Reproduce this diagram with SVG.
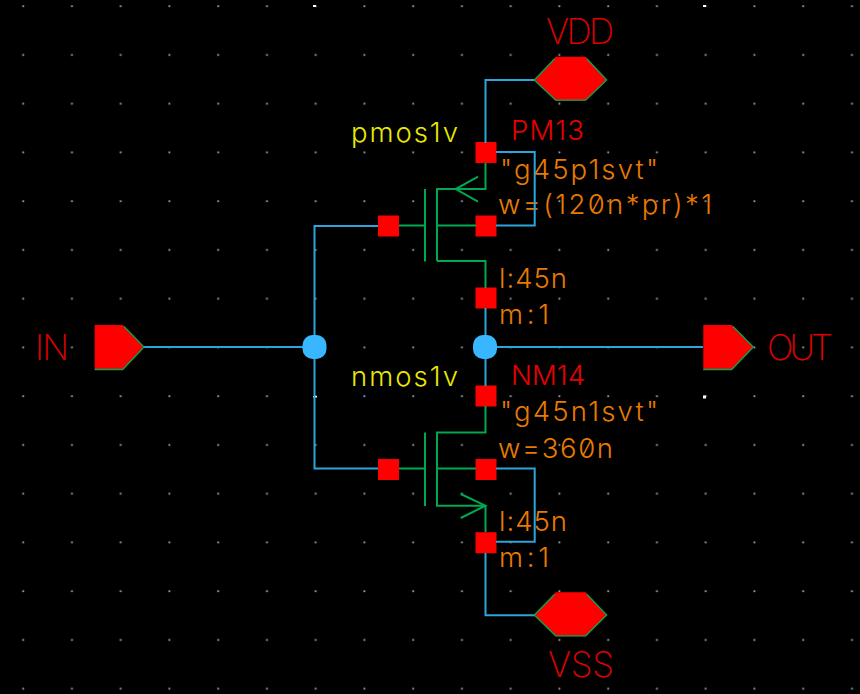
<svg xmlns="http://www.w3.org/2000/svg" width="860" height="694" viewBox="0 0 860 694">
<style>
text{font-family:"Inter","Liberation Sans",sans-serif;font-weight:300;font-feature-settings:"zero" 1}
.r{fill:#e80000;font-size:27.500px}
.R{fill:#e00000;font-size:35px;font-weight:200}
.o{fill:#e87a00;font-size:27.500px}
.y{fill:#e8e800;font-size:27.500px}
.w{fill:none;stroke:#2ba5dc;stroke-width:2}
.g{fill:none;stroke:#00a850;stroke-width:2}
.p{fill:#ff0000}
.e{fill:none;stroke:#00a850;stroke-width:1.300}
.d{fill:#38b6ff}
.t{fill:#a0a0b4}
</style>
<defs>
<g id="pin"><rect class="p" x="-10.500" y="-10.500" width="21" height="21"/></g>
<g id="dot"><rect class="d" x="-12" y="-12" width="24" height="24" rx="10"/></g>
<pattern id="grid" x="0" y="0" width="48.750" height="48.750" patternUnits="userSpaceOnUse"><rect class="t" x="22.300" y="5.300" width="1.800" height="1.800"/></pattern>
</defs>
<rect width="860" height="694" fill="#000"/>
<rect width="860" height="694" fill="url(#grid)"/>
<g fill="#fff"><rect x="313" y="5" width="3" height="2"/><rect x="703" y="5" width="3" height="2"/><rect x="313" y="396" width="4" height="1.500"/><rect x="703" y="395.500" width="3" height="3"/></g>
<g id="PM13">
<use href="#pin" x="486" y="152.500"/><use href="#pin" x="388.500" y="226"/><use href="#pin" x="486" y="226"/><use href="#pin" x="486" y="298"/>
<text class="y" x="351" y="142" textLength="107">pmos1v</text>
<text class="r" x="511" y="140" textLength="73">PM13</text>
<text class="o" x="500" y="178.500" textLength="158">"g45p1svt"</text>
<text class="o" x="498" y="213.500" textLength="214">w=(120n*pr)*1</text>
<text class="o" x="499" y="287.500" textLength="68">l:45n</text>
<text class="o" x="499" y="323.500" textLength="50">m:1</text>
</g>
<g id="NM14">
<use href="#pin" x="486" y="396"/><use href="#pin" x="388.500" y="469.500"/><use href="#pin" x="486" y="469.500"/><use href="#pin" x="486" y="542.700"/>
<text class="y" x="351" y="385.500" textLength="107">nmos1v</text>
<text class="r" x="511" y="384.500" textLength="74">NM14</text>
<text class="o" x="500" y="420.500" textLength="158">"g45n1svt"</text>
<text class="o" x="498" y="457.500" textLength="115">w=360n</text>
<text class="o" x="499" y="531" textLength="68">l:45n</text>
<text class="o" x="499" y="566.500" textLength="50">m:1</text>
</g>
<g id="connectors">
<path class="w" d="M144 347H314.500M485 347H703M314.500 347V226H378M314.500 347V468.500H378"/>
<path class="w" d="M535 80H485.500V143M496 152H534.700V225.500H496M485.500 308V386"/>
<path class="w" d="M496 468.500H534.700V541.700H496M485.500 553V615.300H535"/>
<path class="g" d="M399 225.500H425M437 225.500H476M425 189V261.500M437 261V189H485.500V163M437 261H485.500V288M478 176.700L455.700 189L478 201.700"/>
<path class="g" d="M399 468.500H425M437 468.500H476M425 432.500V506M485.500 406V432.500H437V505.700H485.500V532M460.700 494L485.500 505.700L460.700 518"/>
</g>
<g id="IN"><path class="p" d="M94.700 325H122.700L144 347L122.700 370H94.700Z"/><path class="e" d="M124 326.500L144 347L122.700 369.500H94.700"/><text class="R" x="35" y="360" textLength="34">IN</text></g>
<g id="OUT"><path class="p" d="M703.300 325H731.700L753.300 347L731.700 370H703.300Z"/><path class="e" d="M733 326.500L753.300 347L731.700 369.500H703.300"/><text class="R" x="767" y="360" textLength="66">OUT</text></g>
<g id="VDD"><path class="p" d="M555.700 56.700H585.700L606.700 80L585.700 100.700H555.700L534.300 80Z"/><path class="e" d="M534.300 80L554.500 59M587 59L606.700 80L585.700 100.200H555.700L534.300 80"/><text class="R" x="546" y="43.500" textLength="68">VDD</text></g>
<g id="VSS"><path class="p" d="M555.700 592.300H585.700L606.700 615L585.700 636.300H555.700L534.300 615Z"/><path class="e" d="M534.300 615L554.500 594.500M587 594.500L606.700 615L585.700 635.800H555.700L534.300 615"/><text class="R" x="548" y="677" textLength="66">VSS</text></g>
<g id="junctions"><use href="#dot" x="314.500" y="347"/><use href="#dot" x="485" y="347"/></g>
</svg>
